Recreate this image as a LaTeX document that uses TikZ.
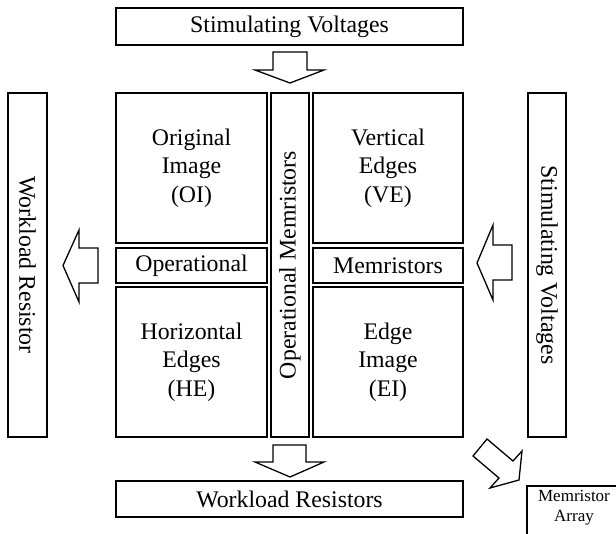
\documentclass[tikz,border=0pt]{standalone}
\usepackage{fontspec}
\setmainfont{Liberation Serif}
\begin{document}
\begin{tikzpicture}[x=1pt,y=-1pt,
  box/.style={draw=black,line width=1.6pt,fill=white,inner sep=0pt,align=center,
    font=\fontsize{23.8}{28.5}\selectfont},
  blockarrow/.style={draw=black,line width=1.3pt,fill=white,line join=miter}]
\useasboundingbox (0,0) rectangle (616,533);
\clip (0,0) rectangle (616,533);
% top and bottom bars
\node[box,minimum width=347,minimum height=37] (top) at (289.5,26.5) {Stimulating Voltages};
\node[box,minimum width=347,minimum height=36] (bot) at (289.5,499) {Workload Resistors};
% four blocks
\node[box,minimum width=151,minimum height=150] (oi) at (191.5,168) {Original\\Image\\(OI)};
\node[box,minimum width=150,minimum height=150] (ve) at (388,168) {Vertical\\Edges\\(VE)};
\node[box,minimum width=151,minimum height=150] (he) at (191.5,362) {Horizontal\\Edges\\(HE)};
\node[box,minimum width=150,minimum height=150] (ei) at (388,362) {Edge\\Image\\(EI)};
% middle bands
\node[box,minimum width=151,minimum height=35] (op) at (191.5,265.5) {Operational};
\node[box,minimum width=150,minimum height=35] (mem) at (388,265.5) {Memristors};
% centre strip
\node[box,minimum width=344,minimum height=38,rotate=90] (cs) at (290,265) {Operational Memristors};
% side bars
\node[box,minimum width=344,minimum height=39,rotate=-90] (lw) at (27.5,265) {Workload Resistor};
\node[box,minimum width=344,minimum height=38,rotate=-90] (rs) at (547,265) {Stimulating Voltages};
% memristor array (cut off by the page edge)
\node[draw=black,line width=1.6pt,fill=white,anchor=north west,minimum width=100,minimum height=70] (marr) at (526,485) {};
\node[align=center,inner sep=0pt,font=\fontsize{17}{19.5}\selectfont] (marrt) at (574,507.5) {Memristor\\Array};
% block arrows
\draw[blockarrow] (273,52) -- (307,52) -- (307,70) -- (324,70) -- (290,83) -- (255,70) -- (273,70) -- cycle;
\draw[blockarrow] (273,445) -- (306,445) -- (306,462) -- (324,462) -- (290,477) -- (255,462) -- (273,462) -- cycle;
\draw[blockarrow] (98,248) -- (79,248) -- (79,230) -- (63,265.5) -- (79,302) -- (79,283) -- (98,283) -- cycle;
\draw[blockarrow] (512,245) -- (493,245) -- (493,225) -- (477,263) -- (493,300) -- (493,280) -- (512,280) -- cycle;
\draw[blockarrow] (473,456) -- (487,439) -- (513,461) -- (522,451) -- (519,480) -- (490,488) -- (499,478) -- cycle;
\end{tikzpicture}
\end{document}
